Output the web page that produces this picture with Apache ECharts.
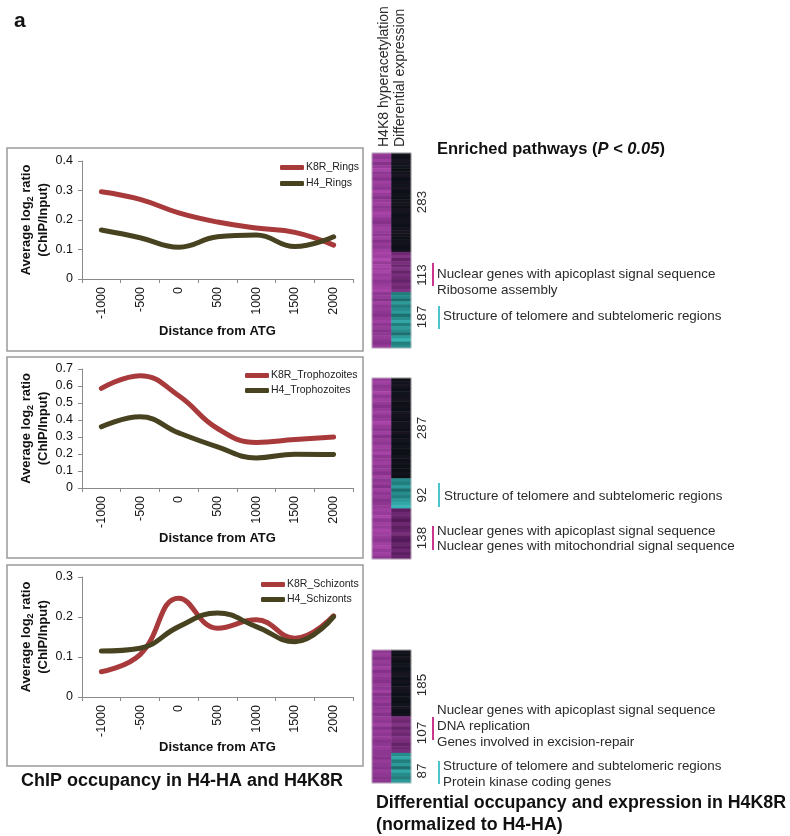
<!DOCTYPE html>
<html><head><meta charset="utf-8">
<script src="https://cdn.jsdelivr.net/npm/echarts@6/dist/echarts.min.js"></script>
<style>html,body{margin:0;padding:0;background:#fff}#c{width:790px;height:836px}</style>
</head><body><div id="c"></div>
<script>
// ---------------- data ----------------
const xCats = ['-1000', '-500', '0', '500', '1000', '1500', '2000'];

const k8rRings = [0.296, 0.27, 0.224, 0.193, 0.173, 0.158, 0.115];
const h4Rings  = [0.166, 0.14, 0.108, 0.143, 0.149, 0.11, 0.143];
const k8rTroph = [0.586, 0.661, 0.543, 0.35, 0.268, 0.285, 0.30];
const h4Troph  = [0.36, 0.419, 0.324, 0.242, 0.177, 0.199, 0.197];
const k8rSchiz = [0.063, 0.106, 0.247, 0.172, 0.193, 0.147, 0.203];
const h4Schiz  = [0.115, 0.122, 0.176, 0.21, 0.176, 0.138, 0.201];

const seriesNames = [['K8R_Rings', 'H4_Rings'], ['K8R_Trophozoites', 'H4_Trophozoites'], ['K8R_Schizonts', 'H4_Schizonts']];
const yMaxes = [0.4, 0.7, 0.3];

// gene counts per heatmap cluster
const ringsGenes = [283, 113, 187];
const trophGenes = [287, 92, 138];
const schizGenes = [185, 107, 87];

// heatmap stripes (intensity 0-9), per cluster stripe counts
const ringsStripes = [32, 13, 18];
const ringsFamilies = ['dark', 'purp', 'teal'];
const ringsHyper = [6,5,7,4,6,8,5,6,4,7, 6,5,8,6,4,6,7,5,6,8, 7,5,4,6,7,6,5,7,4,6, 5,7,
                    8,7,9,6,8,7,8,6,7,5,6,7,8,
                    5,6,4,7,5,6,5,4,6,7,5,6,4,5,6,5,4,6];
const ringsDiff  = [2,1,3,2,2,1,2,3,1,2, 2,3,1,2,1,2,2,1,3,2, 1,2,2,1,2,3,2,1,2,2, 1,2,
                    4,6,3,5,4,6,3,5,4,3,5,4,6,
                    4,5,3,6,4,5,6,3,5,7,4,6,5,3,6,8,4,5];

const trophStripes = [30, 9, 15];
const trophFamilies = ['dark', 'teal', 'purp'];
const trophHyper = [6,7,5,6,8,5,7,6,4,6, 7,5,6,8,6,5,7,4,6,5, 7,6,8,5,6,7,5,6,4,7,
                    5,6,4,7,5,6,4,5,6,
                    7,6,8,5,7,6,8,7,6,5,7,8,6,7,5];
const trophDiff  = [1,2,3,1,2,2,3,1,2,1, 3,2,1,2,2,1,3,1,2,1, 2,1,1,2,1,2,1,1,2,1,
                    5,4,6,3,5,4,6,7,8,
                    2,4,3,1,4,2,3,5,2,1,3,2,4,2,3];

const schizStripes = [20, 11, 9];
const schizFamilies = ['dark', 'purp', 'teal'];
const schizHyper = [5,6,4,6,5,7,4,6,5,4, 6,5,7,4,5,6,4,5,6,4,
                    6,5,7,4,6,5,6,4,5,6,5,
                    5,4,6,5,4,6,5,4,5];
const schizDiff  = [2,1,3,1,2,1,2,3,1,2, 1,3,2,1,2,1,2,3,1,2,
                    5,4,6,3,5,4,6,5,3,4,5,
                    5,7,4,6,3,7,5,4,6];

// ---------------- styles ----------------
const FONT = '"Liberation Sans", Arial, Helvetica, sans-serif';
const RED = '#a93a3b', OLIVE = '#474320';
const AX = '#8a8a8a';
const FAM = {
  mag:  ['#64206c', '#b049b0'],
  dark: ['#070d10', '#3a2644'],
  purp: ['#4a1450', '#9c429c'],
  teal: ['#0b4646', '#3ec2c2']
};
function hex2rgb(h){ h=h.replace('#',''); return [0,2,4].map(i=>parseInt(h.substr(i,2),16)); }
function shade(fam, v){
  const a=hex2rgb(FAM[fam][0]), b=hex2rgb(FAM[fam][1]); const t=v/9;
  return 'rgb('+a.map((x,i)=>Math.round(x+(b[i]-x)*t)).join(',')+')';
}

const lineGrids = [
  {left: 82, top: 161, width: 271, height: 118},
  {left: 82, top: 369, width: 271, height: 119},
  {left: 82, top: 577, width: 271, height: 120}
];
const xNameGaps = [46, 43, 43];
const legendPos = [{left: 275, top: 157, gap: 5}, {left: 240, top: 365, gap: 4}, {left: 256, top: 574, gap: 4}];
const heatGrids = [
  {left: 372, top: 153, width: 39, height: 195},
  {left: 372, top: 378, width: 39, height: 181},
  {left: 372, top: 650, width: 39, height: 133}
];

const grids = [], xAxes = [], yAxes = [], series = [], legends = [];
const lineData = [[k8rRings, h4Rings], [k8rTroph, h4Troph], [k8rSchiz, h4Schiz]];

lineGrids.forEach((g, i) => {
  grids.push(Object.assign({containLabel: false}, g));
  xAxes.push({
    type: 'category', gridIndex: i, data: xCats, boundaryGap: true,
    axisLine: {lineStyle: {color: AX, width: 1}},
    axisTick: {show: true, length: 4, lineStyle: {color: AX}},
    axisLabel: {rotate: 90, color: '#111', fontSize: 12.5, fontFamily: FONT, margin: 8, interval: 0},
    name: 'Distance from ATG', nameLocation: 'middle', nameGap: xNameGaps[i],
    nameTextStyle: {fontWeight: 'bold', fontSize: 13, color: '#111', fontFamily: FONT}
  });
  yAxes.push({
    type: 'value', gridIndex: i, min: 0, max: yMaxes[i], interval: 0.1,
    axisLine: {show: true, lineStyle: {color: AX, width: 1}},
    axisTick: {show: true, length: 4, lineStyle: {color: AX}},
    splitLine: {show: false},
    axisLabel: {color: '#111', fontSize: 12.5, fontFamily: FONT, margin: 9},
    name: 'Average log{sub|2} ratio\n(ChIP/Input)', nameLocation: 'middle', nameGap: 24,
    nameTextStyle: {fontWeight: 'bold', fontSize: 13, color: '#111', fontFamily: FONT, lineHeight: 17, align: 'center',
      rich: {sub: {fontSize: 9, fontWeight: 'bold', color: '#111', fontFamily: FONT, lineHeight: 17, verticalAlign: 'bottom', padding: [0, 0, 0, 0]}}}
  });
  [RED, OLIVE].forEach((col, k) => {
    series.push({
      type: 'line', name: seriesNames[i][k], xAxisIndex: i, yAxisIndex: i, data: lineData[i][k],
      smooth: 0.45, symbol: 'none', lineStyle: {color: col, width: 5, cap: 'round'}, itemStyle: {color: col},
      z: k === 0 ? 3 : 4
    });
  });
  legends.push({
    orient: 'vertical', left: legendPos[i].left, top: legendPos[i].top, itemGap: legendPos[i].gap,
    icon: 'roundRect', itemWidth: 24, itemHeight: 5, data: seriesNames[i],
    textStyle: {fontSize: 10.5, color: '#222', fontFamily: FONT, padding: [0, 0, 0, -3]}
  });
});

const heatBlocks = [
  {hyper: ringsHyper, diff: ringsDiff, stripes: ringsStripes, fams: ringsFamilies},
  {hyper: trophHyper, diff: trophDiff, stripes: trophStripes, fams: trophFamilies},
  {hyper: schizHyper, diff: schizDiff, stripes: schizStripes, fams: schizFamilies}
];
heatBlocks.forEach((b, j) => {
  const gi = 3 + j;
  grids.push(Object.assign({containLabel: false}, heatGrids[j]));
  const n = b.hyper.length;
  const rows = Array.from({length: n}, (_, r) => String(r));
  xAxes.push({type: 'category', gridIndex: gi, data: ['H4K8 hyperacetylation', 'Differential expression'], show: false});
  yAxes.push({type: 'category', gridIndex: gi, data: rows, inverse: true, show: false});
  const data = [];
  let seg = 0, segEnd = b.stripes[0];
  for (let r = 0; r < n; r++) {
    if (r >= segEnd) { seg++; segEnd += b.stripes[seg]; }
    data.push({value: [0, r, b.hyper[r]], itemStyle: {color: shade('mag', b.hyper[r])}});
    data.push({value: [1, r, b.diff[r]], itemStyle: {color: shade(b.fams[seg], b.diff[r])}});
  }
  series.push({type: 'heatmap', xAxisIndex: gi, yAxisIndex: gi, data: data,
    itemStyle: {borderWidth: 0}, emphasis: {disabled: true}, progressive: 0, silent: true});
});

// ---------------- graphic annotations ----------------
const G = [];
function txt(x, y, text, o) {
  o = o || {};
  G.push({type: 'text', x: x, y: y, rotation: o.rot || 0, silent: true,
    style: {text: text, x: 0, y: 0, fill: o.color || '#2a2a2a', font: (o.weight || 'normal') + ' ' + (o.size || 13.4) + 'px ' + FONT,
      align: o.align || 'left', verticalAlign: o.va || 'middle', rich: o.rich}});
}
function bar(x, y1, y2, color) {
  G.push({type: 'rect', silent: true, shape: {x: x - 1, y: y1, width: 2, height: y2 - y1}, style: {fill: color}});
}
const MAGBAR = '#c8368e', TEALBAR = '#4cc4cc';

// boxes around line charts
[[7, 148, 356, 203], [7, 357, 356, 201], [7, 565, 356, 201]].forEach(r => {
  G.push({type: 'rect', silent: true, shape: {x: r[0], y: r[1], width: r[2], height: r[3]}, style: {fill: 'none', stroke: '#9a9a9a', lineWidth: 1.5}});
});
// light outlines around heatmaps
heatGrids.forEach(h => {
  G.push({type: 'rect', silent: true, z: 10, shape: {x: h.left, y: h.top, width: h.width, height: h.height}, style: {fill: 'none', stroke: '#c8c8c8', lineWidth: 0.8}});
});

txt(14, 21, 'a', {weight: 'bold', size: 21, color: '#111'});
txt(384, 147, 'H4K8 hyperacetylation', {rot: Math.PI / 2, size: 14});
txt(400, 147, 'Differential expression', {rot: Math.PI / 2, size: 14});
G.push({type: 'text', x: 437, y: 149, silent: true, style: {
  text: '{b|Enriched pathways (}{i|P < 0.05}{b|)}', x: 0, y: 0, verticalAlign: 'middle',
  rich: {b: {font: 'bold 16.5px ' + FONT, fill: '#111'}, i: {font: 'italic bold 16.5px ' + FONT, fill: '#111'}}}});

// block 1 (rings)
txt(422, 202, String(ringsGenes[0]), {rot: Math.PI / 2, align: 'center'});
txt(422, 275, String(ringsGenes[1]), {rot: Math.PI / 2, align: 'center'});
txt(422, 317, String(ringsGenes[2]), {rot: Math.PI / 2, align: 'center'});
bar(433, 263, 286, MAGBAR);
bar(439, 306, 329, TEALBAR);
txt(437, 274, 'Nuclear genes with apicoplast signal sequence');
txt(437, 290, 'Ribosome assembly');
txt(443, 316, 'Structure of telomere and subtelomeric regions');

// block 2 (trophozoites)
txt(422, 428, String(trophGenes[0]), {rot: Math.PI / 2, align: 'center'});
txt(422, 495, String(trophGenes[1]), {rot: Math.PI / 2, align: 'center'});
txt(422, 538, String(trophGenes[2]), {rot: Math.PI / 2, align: 'center'});
bar(439, 483, 507, TEALBAR);
bar(433, 526, 550, MAGBAR);
txt(444, 496, 'Structure of telomere and subtelomeric regions');
txt(437, 531, 'Nuclear genes with apicoplast signal sequence');
txt(437, 546, 'Nuclear genes with mitochondrial signal sequence');

// block 3 (schizonts)
txt(422, 685, String(schizGenes[0]), {rot: Math.PI / 2, align: 'center'});
txt(422, 733, String(schizGenes[1]), {rot: Math.PI / 2, align: 'center'});
txt(422, 771, String(schizGenes[2]), {rot: Math.PI / 2, align: 'center'});
bar(433, 717, 740, MAGBAR);
bar(439, 761, 784, TEALBAR);
txt(437, 710, 'Nuclear genes with apicoplast signal sequence');
txt(437, 726, 'DNA replication');
txt(437, 742, 'Genes involved in excision-repair');
txt(443, 766, 'Structure of telomere and subtelomeric regions');
txt(443, 782, 'Protein kinase coding genes');

// captions
txt(182, 781, 'ChIP occupancy in H4-HA and H4K8R', {weight: 'bold', size: 18, align: 'center', color: '#111'});
txt(376, 803, 'Differential occupancy and expression in H4K8R', {weight: 'bold', size: 17.8, color: '#111'});
txt(376, 825, '(normalized to H4-HA)', {weight: 'bold', size: 17.8, color: '#111'});

const chart = echarts.init(document.getElementById('c'), null, {renderer: 'canvas'});
chart.setOption({
  backgroundColor: '#fff',
  animation: false,
  textStyle: {fontFamily: FONT},
  grid: grids, xAxis: xAxes, yAxis: yAxes, series: series, legend: legends,
  graphic: {elements: G}
});
</script>
</body></html>
